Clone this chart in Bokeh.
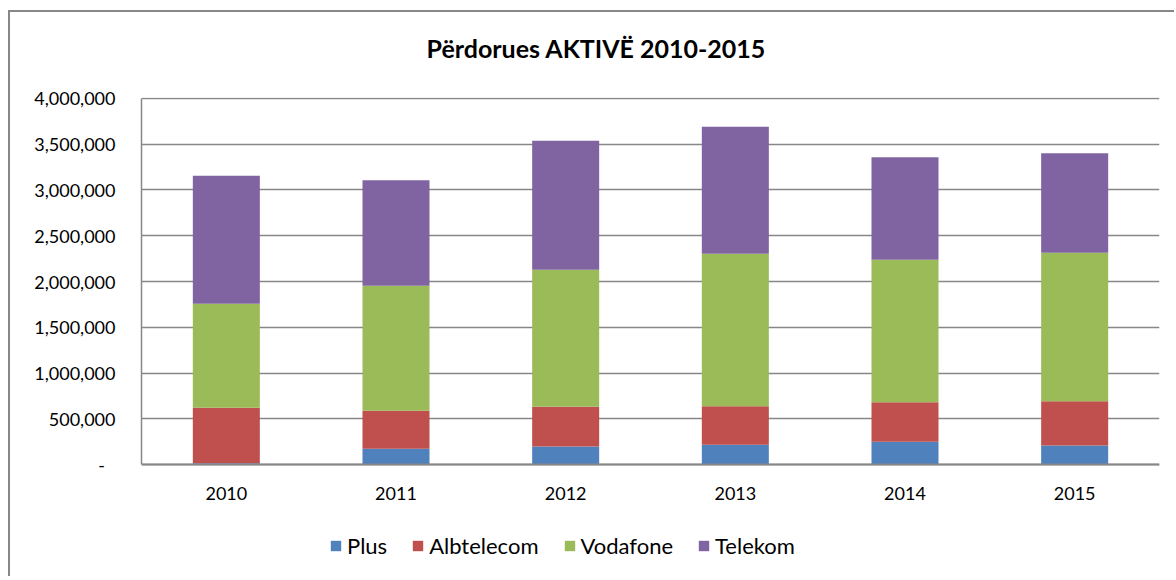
from bokeh.plotting import figure
from bokeh.models import Range1d, FactorRange, Legend, LegendItem, CustomJSTickFormatter, Title
from bokeh.embed import file_html
from bokeh.resources import INLINE

years = ["2010", "2011", "2012", "2013", "2014", "2015"]
series = ["Plus", "Albtelecom", "Vodafone", "Telekom"]
plus = [18000, 175000, 200000, 218000, 251000, 211000]
albtelecom = [604000, 414000, 433000, 422000, 432000, 483000]
vodafone = [1135000, 1364000, 1495000, 1662000, 1554000, 1619000]
telekom = [1396000, 1153000, 1407000, 1386000, 1119000, 1087000]
colors = ["#4F81BD", "#C0504D", "#9BBB59", "#8064A2"]
y_ticks = [0, 500000, 1000000, 1500000, 2000000, 2500000, 3000000, 3500000, 4000000]
title_text = "Përdorues  AKTIVË 2010-2015"

data = {"year": years, "Plus": plus, "Albtelecom": albtelecom,
        "Vodafone": vodafone, "Telekom": telekom}

GRAY = "#878787"
FONT = "Lato"

# frame extends below the zero line to hold the legend (axis drawn at y=0)
p = figure(width=1166, height=566, x_range=FactorRange(*years, range_padding=0),
           y_range=Range1d(-1131500, 4008000), output_backend="svg", toolbar_location=None,
           min_border_left=131, min_border_right=17, min_border_top=85, min_border_bottom=10)
p.styles = {"border-left": "2px solid " + GRAY, "border-top": "2px solid " + GRAY,
            "margin-top": "10px", "margin-left": "8px"}

r = p.vbar_stack(series, x="year", width=0.395, color=colors, source=data, line_width=0)

# blank spacer between the frame and the title
p.add_layout(Title(text=" ", text_font_size="1px", standoff=32), "above")

p.title.text = title_text
p.title.align = "left"
p.title.offset = 285
p.title.standoff = 0
p.title.text_font = FONT
p.title.text_font_size = "25px"
p.title.text_font_style = "bold"
p.title.text_color = "#000000"

p.outline_line_color = None
p.background_fill_color = "white"
p.border_fill_color = "white"

# grid
p.xgrid.grid_line_color = None
p.ygrid.grid_line_color = GRAY
p.ygrid.grid_line_width = 1.5
p.yaxis.ticker = y_ticks

# y axis
p.yaxis.bounds = (0, 4000000)
p.yaxis.formatter = CustomJSTickFormatter(code="""
    if (tick == 0) { return '-\u2007'; }
    return Math.round(tick).toLocaleString('en-US');
""")
p.yaxis.major_tick_line_color = None
p.yaxis.minor_tick_line_color = None
p.yaxis.axis_line_color = GRAY
p.yaxis.axis_line_width = 1.5
p.yaxis.major_label_standoff = 20
p.yaxis.major_label_text_font = FONT
p.yaxis.major_label_text_font_size = "18px"
p.yaxis.major_label_text_color = "#000000"

# x axis at the zero line
p.xaxis.fixed_location = 0
p.xaxis.major_tick_line_color = None
p.xaxis.minor_tick_line_color = None
p.xaxis.axis_line_color = GRAY
p.xaxis.axis_line_width = 2
p.xaxis.major_label_standoff = 16
p.xaxis.major_label_text_font = FONT
p.xaxis.major_label_text_font_size = "18px"
p.xaxis.major_label_text_color = "#000000"

legend = Legend(items=[LegendItem(label=s, renderers=[rr]) for s, rr in zip(series, r)],
                orientation="horizontal", location=(188, 9))
legend.border_line_color = None
legend.background_fill_alpha = 0
legend.padding = 0
legend.margin = 0
legend.spacing = 24
legend.glyph_width = 13
legend.glyph_height = 13
legend.label_standoff = 5
legend.label_text_font = FONT
legend.label_text_font_size = "22px"
legend.label_text_color = "#000000"
p.add_layout(legend, "center")

open("out.html", "w").write(file_html(p, INLINE))
